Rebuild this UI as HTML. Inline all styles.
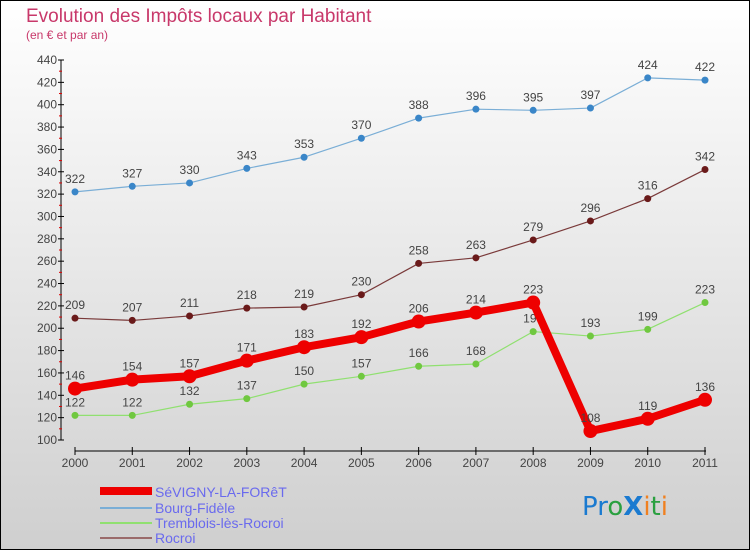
<!DOCTYPE html>
<html><head><meta charset="utf-8"><style>
html,body{margin:0;padding:0}
body{width:750px;height:550px;overflow:hidden;font-family:"Liberation Sans",sans-serif}
#wrap{position:relative;width:748px;height:548px;border:1px solid #000;background:linear-gradient(#ffffff,#cfcfcf)}
</style></head><body>
<div id="wrap">
<svg id="chart" width="748" height="548" viewBox="1 1 748 548">
<text x="26" y="22" font-size="19" fill="#c8386a">Evolution des Impôts locaux par Habitant</text>
<text x="26" y="39" font-size="12" fill="#c8386a">(en € et par an)</text>
<g id="axes"></g>
<g id="series"></g>
<g id="legend" font-size="14" fill="#6a6aee">
<rect x="100" y="487" width="52" height="8" fill="#ee0000"/>
<text x="155" y="497">SéVIGNY-LA-FORêT</text>
<rect x="100" y="507" width="52" height="2" fill="#7aaed6"/>
<text x="155" y="513">Bourg-Fidèle</text>
<rect x="100" y="522" width="52" height="2" fill="#90e070"/>
<text x="155" y="528">Tremblois-lès-Rocroi</text>
<rect x="100" y="537" width="52" height="2" fill="#9a6a6a"/>
<text x="155" y="543">Rocroi</text>
</g>
<g font-size="26" font-family="'DejaVu Sans',sans-serif">
<text x="582" y="515"><tspan fill="#1a7ad0">Pr</tspan><tspan fill="#2aa040">o</tspan><tspan fill="#1a7ad0" font-weight="bold">X</tspan><tspan fill="#f08020">i</tspan><tspan fill="#2aa040">t</tspan><tspan fill="#f08020">i</tspan></text>
</g>
</svg>
</div>
<script>
const years=[2000,2001,2002,2003,2004,2005,2006,2007,2008,2009,2010,2011];
const sevigny=[146,154,157,171,183,192,206,214,223,108,119,136];
const bourg=[322,327,330,343,353,370,388,396,395,397,424,422];
const tremblois=[122,122,132,137,150,157,166,168,197,193,199,223];
const rocroi=[209,207,211,218,219,230,258,263,279,296,316,342];
const yTicks=[100,120,140,160,180,200,220,240,260,280,300,320,340,360,380,400,420,440];
const NS="http://www.w3.org/2000/svg";
function X(i){return 75+i*(705-75)/(years.length-1);}
function Y(v){return 440-(v-100)*380/340;}
function mk(tag,attrs,parent){const e=document.createElementNS(NS,tag);for(const k in attrs)e.setAttribute(k,attrs[k]);parent.appendChild(e);return e;}
const axes=document.getElementById('axes');
const ya=mk('line',{x1:61,y1:Y(440),x2:61,y2:Y(100),stroke:'#000'},axes);


yTicks.forEach(v=>{
 mk('line',{x1:58,x2:64,y1:Y(v),y2:Y(v),stroke:'#000'},axes);
 if(v<440)mk('line',{x1:59,x2:62,y1:Y(v+10),y2:Y(v+10),stroke:'#d00'},axes);
 const t=mk('text',{x:57,y:Y(v)+4,'text-anchor':'end','font-size':12,fill:'#444'},axes);t.textContent=v;
 
 
});
const xa=mk('line',{x1:75,y1:451,x2:706,y2:451,stroke:'#000'},axes);


years.forEach((y,i)=>{
 mk('line',{x1:X(i),x2:X(i),y1:447,y2:455,stroke:'#000'},axes);
 const t=mk('text',{x:X(i),y:467,'text-anchor':'middle','font-size':12,fill:'#444'},axes);t.textContent=y;
 
 
});
const sg=document.getElementById('series');
function draw(vals,color,dot,w,r,name,labColor){
 const g=mk('g',{},sg);
 
 
 const p=mk('polyline',{points:vals.map((v,i)=>X(i)+','+Y(v)).join(' '),fill:'none',stroke:color,'stroke-width':w,'stroke-linejoin':'round'},g);
 
 
 vals.forEach((v,i)=>{
  const c=mk('circle',{cx:X(i),cy:Y(v),r:r,fill:dot},g);
  
  
  const t=mk('text',{x:X(i),y:Y(v)-9,'text-anchor':'middle','font-size':12,fill:'#444'},g);t.textContent=v;
  
  
 });
}
draw(bourg,'#7aaed6','#3a86c8',1.2,3.5,'bourg-fidele');
draw(rocroi,'#7a3a3a','#6a1a1a',1.2,3.5,'rocroi');
draw(tremblois,'#90e070','#70c840',1.2,3.5,'tremblois');
draw(sevigny,'#ee0000','#ee0000',8,7,'sevigny');
</script>
</body></html>
